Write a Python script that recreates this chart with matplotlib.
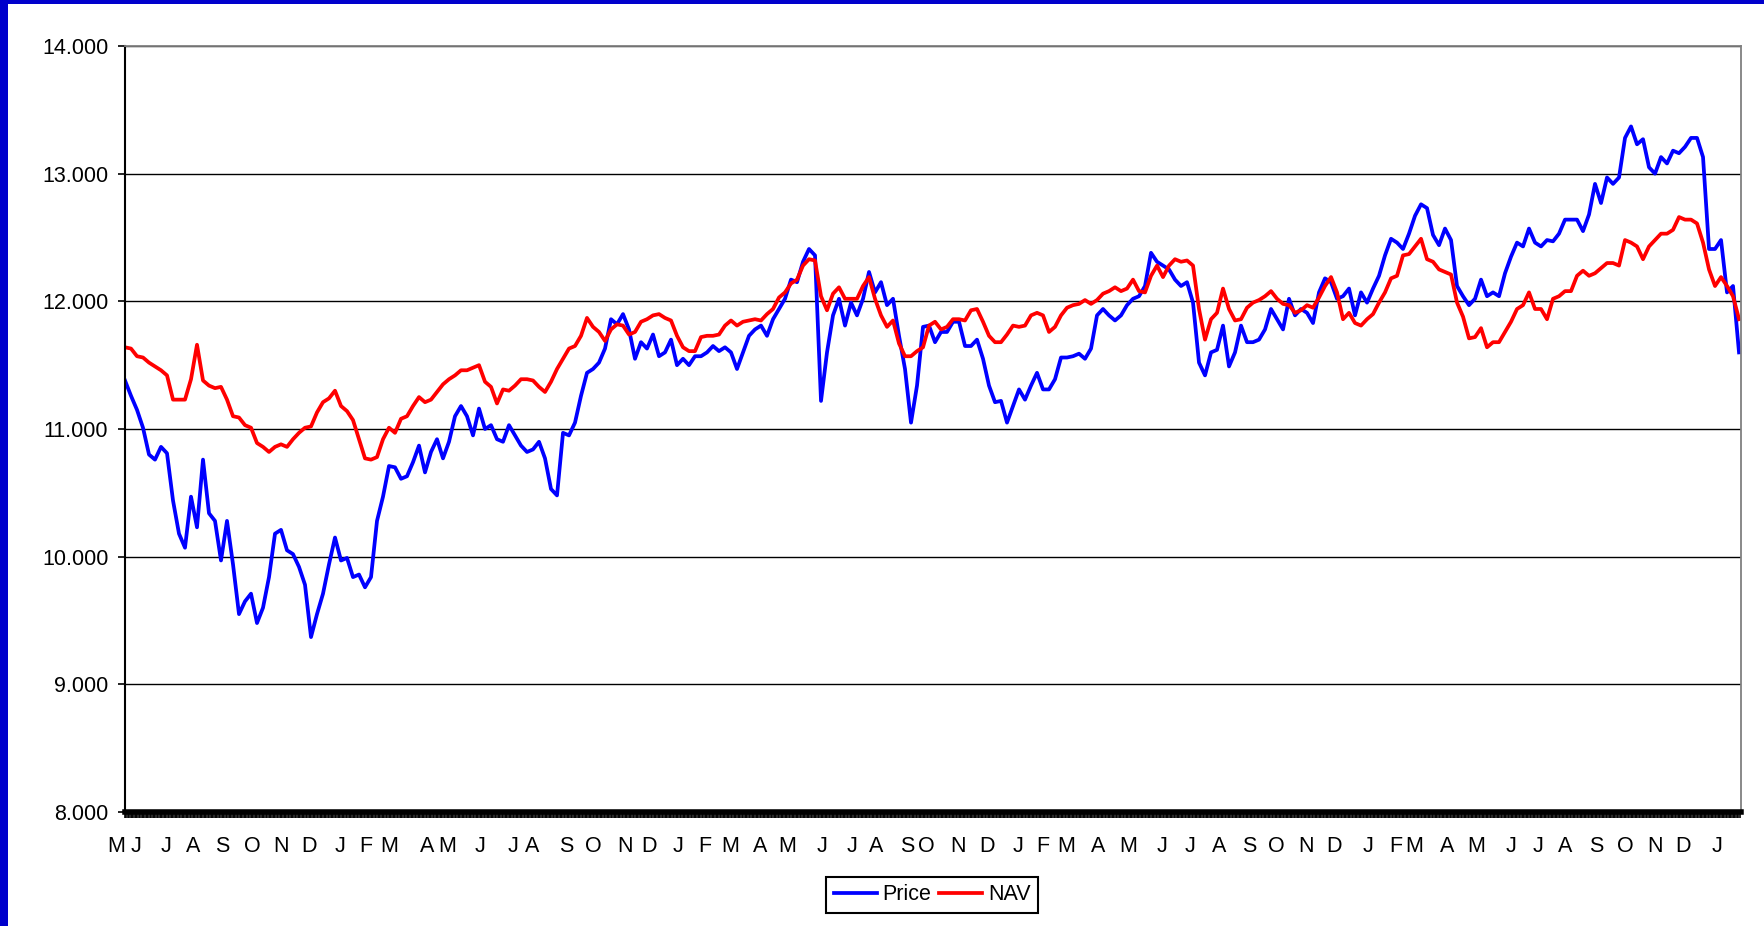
import matplotlib
matplotlib.use('Agg')
import matplotlib.pyplot as plt
import matplotlib.transforms as mtransforms
from matplotlib.patches import Rectangle
from matplotlib.ticker import FormatStrFormatter
import numpy as np

plt.rcParams['font.family'] = ['Liberation Sans', 'DejaVu Sans']

# values, evenly spaced in time
price = [
    11.38, 11.26, 11.15, 11.01, 10.80, 10.76, 10.86, 10.81, 10.44, 10.18,
    10.07, 10.47, 10.23, 10.76, 10.34, 10.28, 9.97, 10.28, 9.94, 9.55,
    9.65, 9.71, 9.48, 9.60, 9.84, 10.18, 10.21, 10.05, 10.02, 9.92,
    9.78, 9.37, 9.55, 9.71, 9.94, 10.15, 9.97, 9.99, 9.84, 9.86,
    9.76, 9.84, 10.28, 10.47, 10.71,
    10.70, 10.61, 10.63, 10.74, 10.87, 10.66, 10.82, 10.92, 10.77, 10.90,
    11.10, 11.18, 11.10, 10.95, 11.16, 11.00, 11.03, 10.92, 10.90, 11.03,
    10.95, 10.87, 10.82, 10.84, 10.90, 10.77, 10.53, 10.48, 10.97, 10.95,
    11.05, 11.26, 11.44, 11.47, 11.52, 11.63, 11.86, 11.82, 11.90, 11.78,
    11.55, 11.68, 11.63, 11.74,
    11.57, 11.60, 11.70, 11.50, 11.55, 11.50, 11.57, 11.57, 11.60, 11.65,
    11.61, 11.64, 11.60, 11.47, 11.60, 11.73, 11.78, 11.81, 11.73, 11.86,
    11.94, 12.02, 12.17, 12.15, 12.31, 12.41, 12.36, 11.22, 11.60, 11.89,
    12.02, 11.81, 11.99, 11.89, 12.02, 12.23, 12.07, 12.15, 11.97, 12.02,
    11.73, 11.47, 11.05, 11.34,
    11.80, 11.81, 11.68, 11.76, 11.76, 11.84, 11.84, 11.65, 11.65, 11.70,
    11.55, 11.34, 11.21, 11.22, 11.05, 11.18, 11.31, 11.23, 11.34, 11.44,
    11.31, 11.31, 11.39, 11.56, 11.56, 11.57, 11.59, 11.55, 11.63, 11.89,
    11.94, 11.89, 11.85, 11.89, 11.97, 12.02, 12.04, 12.12, 12.38, 12.31,
    12.28, 12.25, 12.17, 12.12,
    12.15, 11.99, 11.52, 11.42, 11.60, 11.62, 11.81, 11.49, 11.60, 11.81,
    11.68, 11.68, 11.70, 11.78, 11.94, 11.86, 11.78, 12.02, 11.89, 11.94,
    11.91, 11.83, 12.07, 12.18, 12.15, 12.02, 12.04, 12.10, 11.89, 12.07,
    11.99, 12.10, 12.20, 12.36, 12.49, 12.46, 12.41, 12.53, 12.67, 12.76,
    12.73, 12.52, 12.44, 12.57,
    12.48, 12.12, 12.04, 11.97, 12.02, 12.17, 12.04, 12.07, 12.04, 12.22,
    12.35, 12.46, 12.43, 12.57, 12.46, 12.43, 12.48, 12.47, 12.53, 12.64,
    12.64, 12.64, 12.55, 12.68, 12.92, 12.77, 12.97, 12.92, 12.97, 13.28,
    13.37, 13.23, 13.27, 13.05, 13.00, 13.13, 13.08, 13.18, 13.16, 13.21,
    13.28, 13.28, 13.13, 12.41, 12.41, 12.48, 12.07, 12.12, 11.60,
]

nav = [
    11.64, 11.63, 11.57, 11.56, 11.52, 11.49, 11.46, 11.42, 11.23, 11.23,
    11.23, 11.39, 11.66, 11.38, 11.34, 11.32, 11.33, 11.23, 11.10, 11.09,
    11.03, 11.01, 10.89, 10.86, 10.82, 10.86, 10.88, 10.86, 10.92, 10.97,
    11.01, 11.02, 11.13, 11.21, 11.24, 11.30, 11.18, 11.14, 11.07, 10.92,
    10.77, 10.76, 10.78, 10.92, 11.01,
    10.97, 11.08, 11.10, 11.18, 11.25, 11.21, 11.23, 11.29, 11.35, 11.39,
    11.42, 11.46, 11.46, 11.48, 11.50, 11.37, 11.33, 11.20, 11.31, 11.30,
    11.34, 11.39, 11.39, 11.38, 11.33, 11.29, 11.37, 11.47, 11.55, 11.63,
    11.65, 11.73, 11.87, 11.80, 11.76, 11.69, 11.78, 11.82, 11.81, 11.74,
    11.76, 11.84, 11.86, 11.89,
    11.90, 11.87, 11.85, 11.73, 11.64, 11.61, 11.61, 11.72, 11.73, 11.73,
    11.74, 11.81, 11.85, 11.81, 11.84, 11.85, 11.86, 11.85, 11.90, 11.94,
    12.03, 12.07, 12.14, 12.17, 12.28, 12.33, 12.32, 12.04, 11.93, 12.06,
    12.11, 12.02, 12.02, 12.02, 12.12, 12.19, 12.02, 11.89, 11.80, 11.85,
    11.67, 11.57, 11.57, 11.61,
    11.64, 11.81, 11.84, 11.78, 11.80, 11.86, 11.86, 11.85, 11.93, 11.94,
    11.84, 11.73, 11.68, 11.68, 11.74, 11.81, 11.80, 11.81, 11.89, 11.91,
    11.89, 11.76, 11.80, 11.89, 11.95, 11.97, 11.98, 12.01, 11.98, 12.01,
    12.06, 12.08, 12.11, 12.08, 12.10, 12.17, 12.08, 12.07, 12.20, 12.28,
    12.19, 12.28, 12.33, 12.31,
    12.32, 12.28, 11.94, 11.70, 11.86, 11.91, 12.10, 11.94, 11.85, 11.86,
    11.95, 11.99, 12.01, 12.04, 12.08, 12.02, 11.98, 11.97, 11.91, 11.93,
    11.97, 11.95, 12.03, 12.12, 12.19, 12.07, 11.86, 11.91, 11.83, 11.81,
    11.86, 11.90, 11.99, 12.07, 12.18, 12.20, 12.36, 12.37, 12.43, 12.49,
    12.33, 12.31, 12.25, 12.23,
    12.21, 11.99, 11.88, 11.71, 11.72, 11.79, 11.64, 11.68, 11.68, 11.76,
    11.84, 11.94, 11.97, 12.07, 11.94, 11.94, 11.86, 12.02, 12.04, 12.08,
    12.08, 12.20, 12.24, 12.20, 12.22, 12.26, 12.30, 12.30, 12.28, 12.48,
    12.46, 12.43, 12.33, 12.43, 12.48, 12.53, 12.53, 12.56, 12.66, 12.64,
    12.64, 12.61, 12.46, 12.25, 12.12, 12.19, 12.12, 12.04, 11.86,
]

# month initials and where they sit, in sample units
month_labels = list("MJJASOND" + "JFMAMJJASOND" * 4 + "J")
month_pos = [
    -1.5, 1.8, 6.8, 11.4, 16.2, 21.2, 26.0, 30.7,
    35.8, 40.2, 44.0, 50.4, 53.7, 59.2, 64.7, 67.8, 73.5, 78.0, 83.4, 87.3,
    92.2, 96.7, 100.8, 105.9, 110.4, 116.2, 121.1, 125.2, 130.3, 133.5, 138.9, 143.7,
    148.8, 153.0, 156.9, 162.2, 167.2, 172.8, 177.5, 182.3, 187.3, 191.8, 196.8, 201.5,
    207.1, 211.8, 214.9, 220.4, 225.2, 231.0, 235.5, 240.1, 245.2, 250.0, 255.0, 259.6,
    265.3,
]

x = np.arange(len(price))

W, H = 1764, 926
fig = plt.figure(figsize=(W / 100, H / 100), dpi=100, facecolor='#0000CC')
fig.add_artist(Rectangle((8 / W, 0), 1, (H - 4) / H, transform=fig.transFigure,
                         facecolor='white', edgecolor='none', zorder=-10))

ax = fig.add_axes([125 / W, 1 - 812 / H, (1740.7 - 125) / W, (812 - 46) / H])

ax.plot(x, price, color='#0000FF', lw=2.7, label='Price')
ax.plot(x, nav, color='#FF0000', lw=2.7, label='NAV')

ax.set_xlim(0, 269.28)
ax.set_ylim(8, 14)
ax.set_yticks(np.arange(8, 14.01, 1))
ax.yaxis.set_major_formatter(FormatStrFormatter('%.3f'))
ax.grid(axis='y', color='black', lw=1.0)
ax.set_axisbelow(True)

ax.spines['left'].set_color('black')
ax.spines['left'].set_linewidth(1.5)
ax.spines['bottom'].set_color('black')
ax.spines['bottom'].set_linewidth(4)
for s in ('top', 'right'):
    ax.spines[s].set_color('#808080')
    ax.spines[s].set_linewidth(1.3)

ax.tick_params(axis='y', direction='out', length=5, width=1.2, labelsize=15.5, pad=7)
ax.set_xticks([])
ax.set_xticks(np.arange(0, 269.3, 0.23), minor=True)
ax.tick_params(axis='x', which='minor', direction='out', length=4.5, width=1.2, color='black')

trans = mtransforms.blended_transform_factory(ax.transData, ax.transAxes)
for p, lab in zip(month_pos, month_labels):
    ax.text(p, -0.0444, lab, transform=trans, ha='center', va='center',
            fontsize=15.5, clip_on=False)

leg = ax.legend(loc='center', bbox_to_anchor=(932 / W, 1 - 895 / H),
                bbox_transform=fig.transFigure, ncol=2, frameon=True, fancybox=False,
                edgecolor='black', framealpha=1, fontsize=15.5, handlelength=2.0,
                handletextpad=0.25, columnspacing=0.4, borderpad=0.35, borderaxespad=0)
leg.get_frame().set_linewidth(1.5)

fig.savefig('out.png', dpi=100, facecolor=fig.get_facecolor())
